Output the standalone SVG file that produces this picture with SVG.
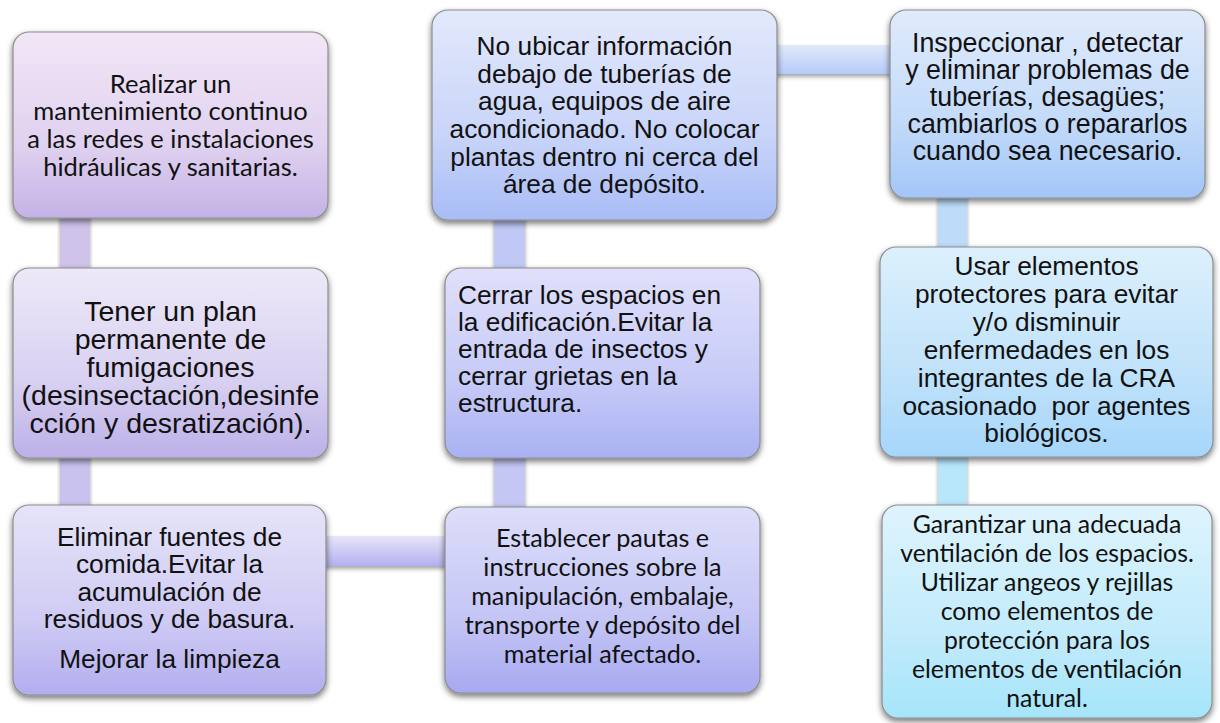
<svg xmlns="http://www.w3.org/2000/svg" width="1220" height="723" viewBox="0 0 1220 723">
<style>
.box{stroke:#8c8c8c;stroke-width:1.2;filter:url(#sh)}
.ar{font-family:"Liberation Sans",Arial,sans-serif;font-size:26.3px;fill:#111}
.ca{font-family:Lato,"Open Sans",sans-serif;font-size:24.7px;fill:#111}
.c{text-anchor:middle}
.conn{filter:url(#sh2)}
</style>
<defs>
<filter id="sh" x="-10%" y="-10%" width="120%" height="125%">
<feGaussianBlur in="SourceAlpha" stdDeviation="3"/>
<feOffset dx="0" dy="3" result="b"/>
<feComponentTransfer><feFuncA type="linear" slope="0.55"/></feComponentTransfer>
<feMerge><feMergeNode/><feMergeNode in="SourceGraphic"/></feMerge>
</filter>
<filter id="sh2" x="-10%" y="-30%" width="120%" height="180%">
<feGaussianBlur in="SourceAlpha" stdDeviation="2"/>
<feOffset dx="0" dy="3" result="b"/>
<feComponentTransfer><feFuncA type="linear" slope="0.35"/></feComponentTransfer>
<feMerge><feMergeNode/><feMergeNode in="SourceGraphic"/></feMerge>
</filter>
<linearGradient id="g1" x1="0" y1="0" x2="0" y2="1"><stop offset="0" stop-color="#f2e6f6"/><stop offset="0.6" stop-color="#e0d2f0"/><stop offset="1" stop-color="#c4b2e6"/></linearGradient>
<linearGradient id="g2" x1="0" y1="0" x2="0" y2="1"><stop offset="0" stop-color="#ede9f8"/><stop offset="0.6" stop-color="#d8d0f1"/><stop offset="1" stop-color="#bcb0e8"/></linearGradient>
<linearGradient id="g3" x1="0" y1="0" x2="0" y2="1"><stop offset="0" stop-color="#e6e4f9"/><stop offset="0.6" stop-color="#cfcbf4"/><stop offset="1" stop-color="#b2aeef"/></linearGradient>
<linearGradient id="g4" x1="0" y1="0" x2="0" y2="1"><stop offset="0" stop-color="#e3e9fc"/><stop offset="0.6" stop-color="#c8d4f9"/><stop offset="1" stop-color="#a8bcf6"/></linearGradient>
<linearGradient id="g5" x1="0" y1="0" x2="0" y2="1"><stop offset="0" stop-color="#e0e0fb"/><stop offset="0.6" stop-color="#c6caf7"/><stop offset="1" stop-color="#a9b1f3"/></linearGradient>
<linearGradient id="g6" x1="0" y1="0" x2="0" y2="1"><stop offset="0" stop-color="#dddefa"/><stop offset="0.6" stop-color="#c4c5f5"/><stop offset="1" stop-color="#a7a9f1"/></linearGradient>
<linearGradient id="g7" x1="0" y1="0" x2="0" y2="1"><stop offset="0" stop-color="#e0ebfc"/><stop offset="0.6" stop-color="#c2daf9"/><stop offset="1" stop-color="#a3c6f8"/></linearGradient>
<linearGradient id="g8" x1="0" y1="0" x2="0" y2="1"><stop offset="0" stop-color="#dcf0fc"/><stop offset="0.6" stop-color="#c0e2fa"/><stop offset="1" stop-color="#a5d6fa"/></linearGradient>
<linearGradient id="g9" x1="0" y1="0" x2="0" y2="1"><stop offset="0" stop-color="#def4fd"/><stop offset="0.6" stop-color="#c2ebfb"/><stop offset="1" stop-color="#a5e5fa"/></linearGradient>
<linearGradient id="gh1" x1="0" y1="0" x2="0" y2="1"><stop offset="0" stop-color="#e7e5f9"/><stop offset="1" stop-color="#b2b0ee"/></linearGradient>
<linearGradient id="gh2" x1="0" y1="0" x2="0" y2="1"><stop offset="0" stop-color="#e0e9fc"/><stop offset="1" stop-color="#b5cbf8"/></linearGradient>
</defs>
<rect width="1220" height="723" fill="#ffffff"/>
<g id="connectors">
<rect class="conn" x="60" y="212" width="30" height="62" fill="#cfc3ea"/>
<rect class="conn" x="60" y="452" width="30" height="59" fill="#cac2ee"/>
<rect class="conn" x="320" y="536" width="131" height="30" fill="url(#gh1)"/>
<rect class="conn" x="494" y="452" width="31" height="61" fill="#c4c6f4"/>
<rect class="conn" x="494" y="214" width="31" height="60" fill="#c0c8f6"/>
<rect class="conn" x="771" y="45" width="125" height="29" fill="url(#gh2)"/>
<rect class="conn" x="938" y="192" width="29" height="61" fill="#bcdcf9"/>
<rect class="conn" x="938" y="451" width="29" height="60" fill="#b8e6fb"/>
</g>
<g id="node1">
<rect class="box" x="13" y="32" width="315" height="186" rx="16" fill="url(#g1)"/>
<text class="ca c" style="font-size:25.5px"><tspan x="170.5" y="93">Realizar un</tspan><tspan x="170.5" y="120">mantenimiento continuo</tspan><tspan x="170.5" y="148">a las redes e instalaciones</tspan><tspan x="170.5" y="176">hidráulicas y sanitarias.</tspan></text>
</g>
<g id="node2">
<rect class="box" x="13" y="268" width="315" height="190" rx="16" fill="url(#g2)"/>
<text class="ar c" style="font-size:28.5px"><tspan x="170.5" y="321">Tener un plan</tspan><tspan x="170.5" y="349">permanente de</tspan><tspan x="170.5" y="377">fumigaciones</tspan><tspan x="170.5" y="405">(desinsectación,desinfe</tspan><tspan x="170.5" y="433">cción y desratización).</tspan></text>
</g>
<g id="node3">
<rect class="box" x="13" y="505" width="313" height="190" rx="16" fill="url(#g3)"/>
<text class="ar c"><tspan x="169.5" y="546">Eliminar fuentes de</tspan><tspan x="169.5" y="573">comida.Evitar la</tspan><tspan x="169.5" y="601">acumulación de</tspan><tspan x="169.5" y="628">residuos y de basura.</tspan><tspan x="169.5" y="668">Mejorar la limpieza</tspan></text>
</g>
<g id="node4">
<rect class="box" x="432" y="10" width="345" height="210" rx="16" fill="url(#g4)"/>
<text class="ar c"><tspan x="604.5" y="55">No ubicar información</tspan><tspan x="604.5" y="83">debajo de tuberías de</tspan><tspan x="604.5" y="110">agua, equipos de aire</tspan><tspan x="604.5" y="138">acondicionado. No colocar</tspan><tspan x="604.5" y="166">plantas dentro ni cerca del</tspan><tspan x="604.5" y="193">área de depósito.</tspan></text>
</g>
<g id="node5">
<rect class="box" x="445" y="268" width="315" height="190" rx="16" fill="url(#g5)"/>
<text class="ar"><tspan x="458" y="304">Cerrar los espacios en</tspan><tspan x="458" y="331">la edificación.Evitar la</tspan><tspan x="458" y="358">entrada de insectos y</tspan><tspan x="458" y="385">cerrar grietas en la</tspan><tspan x="458" y="412">estructura.</tspan></text>
</g>
<g id="node6">
<rect class="box" x="445" y="507" width="315" height="186" rx="16" fill="url(#g6)"/>
<text class="ca c" style="font-size:25.2px"><tspan x="602.5" y="547">Establecer pautas e</tspan><tspan x="602.5" y="576">instrucciones sobre la</tspan><tspan x="602.5" y="605">manipulación, embalaje,</tspan><tspan x="602.5" y="634">transporte y depósito del</tspan><tspan x="602.5" y="663">material afectado.</tspan></text>
</g>
<g id="node7">
<rect class="box" x="890" y="10" width="315" height="188" rx="16" fill="url(#g7)"/>
<text class="ar c" style="font-size:26.8px"><tspan x="1047.5" y="52">Inspeccionar , detectar</tspan><tspan x="1047.5" y="79">y eliminar problemas de</tspan><tspan x="1047.5" y="106">tuberías, desagües;</tspan><tspan x="1047.5" y="133">cambiarlos o repararlos</tspan><tspan x="1047.5" y="160">cuando sea necesario.</tspan></text>
</g>
<g id="node8">
<rect class="box" x="880" y="247" width="333" height="210" rx="16" fill="url(#g8)"/>
<text class="ar c"><tspan x="1046.5" y="275">Usar elementos</tspan><tspan x="1046.5" y="303">protectores para evitar</tspan><tspan x="1046.5" y="331">y/o disminuir</tspan><tspan x="1046.5" y="359">enfermedades en los</tspan><tspan x="1046.5" y="387">integrantes de la CRA</tspan><tspan x="1046.5" y="415" xml:space="preserve">ocasionado  por agentes</tspan><tspan x="1046.5" y="442">biológicos.</tspan></text>
</g>
<g id="node9">
<rect class="box" x="882" y="505" width="330" height="213" rx="16" fill="url(#g9)"/>
<text class="ca c" style="font-size:24.8px"><tspan x="1047" y="533">Garantizar una adecuada</tspan><tspan x="1047" y="562">ventilación de los espacios.</tspan><tspan x="1047" y="591">Utilizar angeos y rejillas</tspan><tspan x="1047" y="620">como elementos de</tspan><tspan x="1047" y="649">protección para los</tspan><tspan x="1047" y="678">elementos de ventilación</tspan><tspan x="1047" y="707">natural.</tspan></text>
</g>
</svg>
